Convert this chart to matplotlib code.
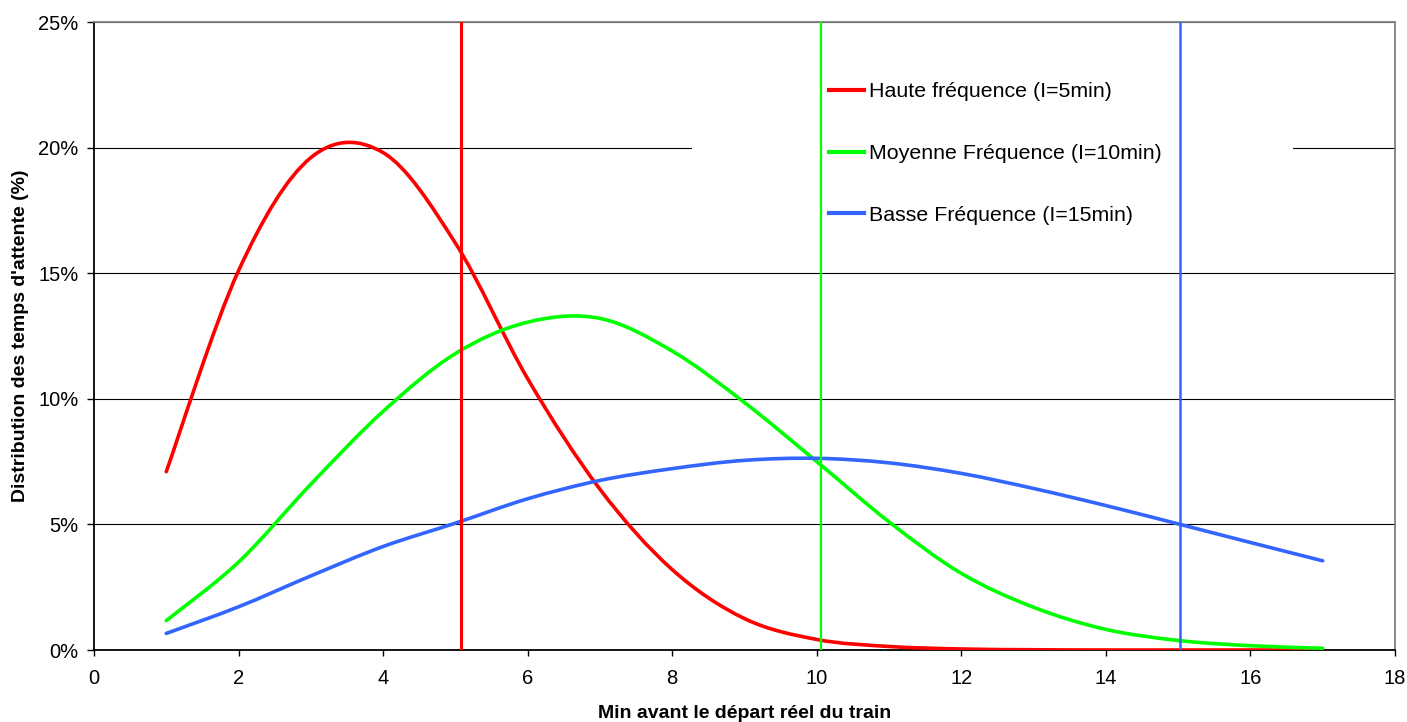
import matplotlib
matplotlib.use("Agg")
import matplotlib.pyplot as plt
from matplotlib.path import Path
from matplotlib.patches import PathPatch, Rectangle
from matplotlib.lines import Line2D
from matplotlib.ticker import FuncFormatter, MultipleLocator

plt.rcParams['font.family'] = ['Liberation Sans', 'DejaVu Sans']

# ---------------- data ----------------
minutes = [1, 2, 3, 4, 5, 6, 7, 8, 9, 10, 11, 12, 13, 14, 15, 16, 17]
haute = [7.10, 15.1, 19.6, 19.8, 16.2, 10.8, 6.4, 3.2, 1.25, 0.42, 0.14, 0.04, 0.01, 0.0, 0.0, 0.0, 0.0]
moyenne = [1.17, 3.5, 6.6, 9.5, 11.8, 13.05, 13.2, 11.9, 9.85, 7.5, 5.1, 3.05, 1.7, 0.82, 0.38, 0.17, 0.07]
basse = [0.66, 1.72, 2.95, 4.12, 5.05, 6.02, 6.75, 7.22, 7.55, 7.63, 7.45, 7.03, 6.43, 5.75, 5.02, 4.28, 3.55]
series_labels = ["Haute fréquence (I=5min)", "Moyenne Fréquence (I=10min)", "Basse Fréquence (I=15min)"]
means = [5.08, 10.06, 15.03]
colors = ["#FF0000", "#00FF00", "#3366FF"]
xlabel = "Min avant le départ réel du train"
ylabel = "Distribution des temps d'attente (%)"


def smooth_path(xs, ys):
    """Excel-style smoothed line: cubic Bezier (Catmull-Rom) through the points."""
    n = len(xs)
    pts = list(zip(xs, ys))
    verts = [pts[0]]
    codes = [Path.MOVETO]
    for i in range(n - 1):
        p0 = pts[i - 1] if i > 0 else pts[i]
        p1 = pts[i]
        p2 = pts[i + 1]
        p3 = pts[i + 2] if i + 2 < n else pts[i + 1]
        c1 = (p1[0] + (p2[0] - p0[0]) / 6.0, p1[1] + (p2[1] - p0[1]) / 6.0)
        c2 = (p2[0] - (p3[0] - p1[0]) / 6.0, p2[1] - (p3[1] - p1[1]) / 6.0)
        verts += [c1, c2, p2]
        codes += [Path.CURVE4] * 3
    return Path(verts, codes)


fig = plt.figure(figsize=(14.07, 7.22), dpi=100)
ax = fig.add_axes([94 / 1407, 72 / 722, 1301 / 1407, 628 / 722])

ax.set_xlim(0, 18)
ax.set_ylim(0, 25)
ax.xaxis.set_major_locator(MultipleLocator(2))
ax.yaxis.set_major_locator(MultipleLocator(5))
ax.yaxis.set_major_formatter(FuncFormatter(lambda v, p: f"{v:.0f}%"))

ax.grid(axis='y', color='#000000', linewidth=0.8, zorder=0)
ax.set_axisbelow(True)

for side in ['left', 'bottom']:
    ax.spines[side].set_color('#000000')
    ax.spines[side].set_linewidth(1.3)
for side in ['top', 'right']:
    ax.spines[side].set_color('#808080')
    ax.spines[side].set_linewidth(1.3)

ax.tick_params(axis='x', direction='out', length=4, width=1, pad=10, labelsize=14.5, colors='#000000')
ax.tick_params(axis='y', direction='out', length=5, width=1, pad=6, labelsize=14.5, colors='#000000')

# white legend area hiding gridlines
ax.add_patch(Rectangle((598 / 1301, 0.63), 601 / 1301, 0.36, transform=ax.transAxes,
                       facecolor='white', edgecolor='none', zorder=1.5))

for ys, c in zip([haute, moyenne, basse], colors):
    patch = PathPatch(smooth_path(minutes, ys), facecolor='none', edgecolor=c,
                      linewidth=2.6, capstyle='round', joinstyle='round', zorder=3)
    ax.add_patch(patch)

for m, c, lw in zip(means, colors, [2.2, 1.6, 1.8]):
    ax.axvline(m, color=c, linewidth=lw, zorder=6)

handles = [Line2D([], [], color=c, linewidth=3) for c in colors]
leg = ax.legend(handles, series_labels, loc='upper left', bbox_to_anchor=(0.565, 0.904),
                frameon=False, fontsize=15.4, handlelength=1.65, handletextpad=0.22,
                labelspacing=2.0, borderpad=0, borderaxespad=0)
leg.set_zorder(5)

ax.set_xlabel(xlabel, fontsize=14, fontweight='bold', labelpad=12)
ax.set_ylabel(ylabel, fontsize=14, fontweight='bold', labelpad=7)

fig.savefig("out.png", dpi=100, facecolor='white')
